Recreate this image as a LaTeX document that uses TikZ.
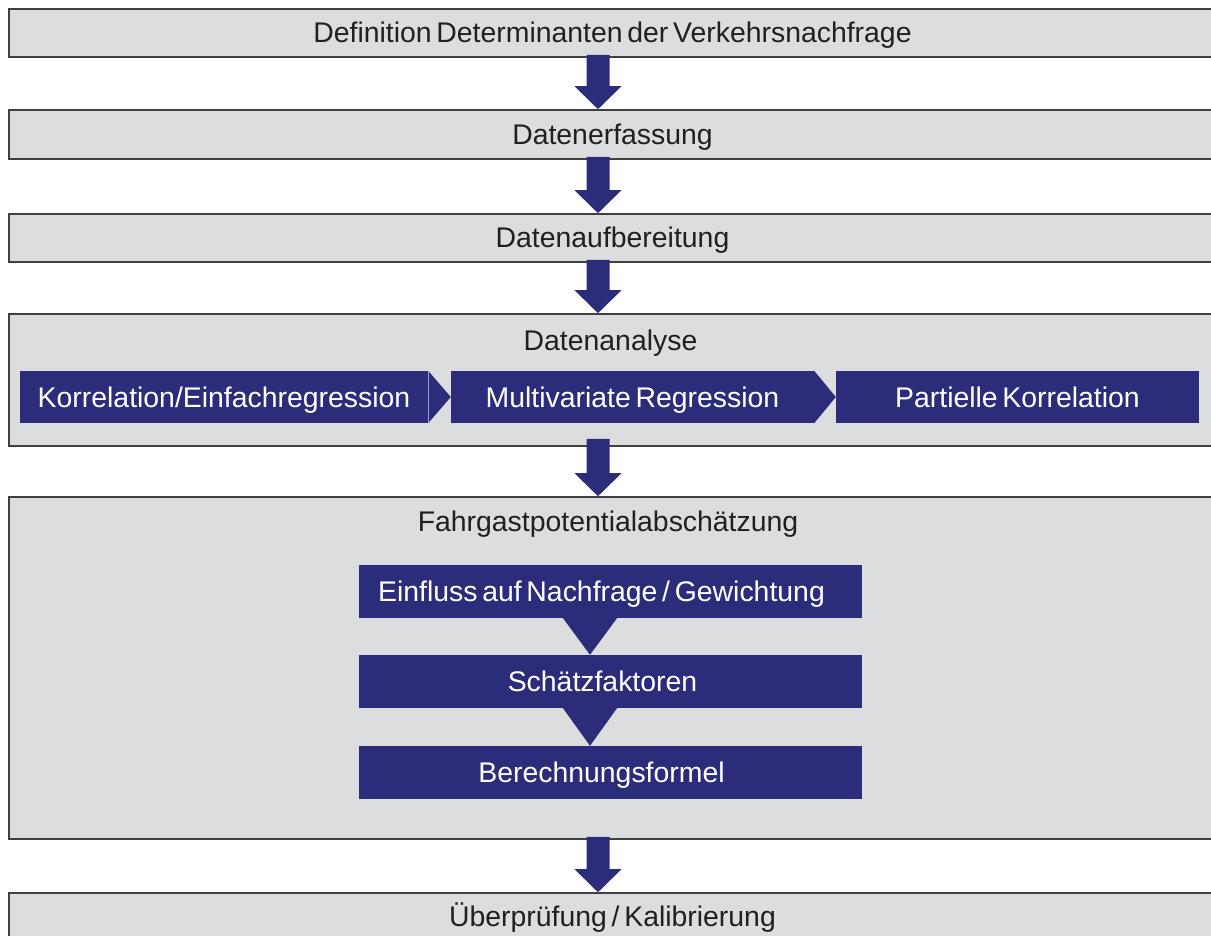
\documentclass[tikz,border=0pt]{standalone}
\usepackage{fontspec}
\setmainfont{Liberation Sans}[WordSpace=0.6]
\usetikzlibrary{calc}
\definecolor{boxgray}{HTML}{DCDDDF}
\definecolor{boxline}{HTML}{404040}
\definecolor{navy}{HTML}{2C2D7A}
\definecolor{txt}{HTML}{231F20}
\newcommand\diafont{\fontsize{28.4}{34}\selectfont}
\newcommand\blockarrow[3]{%
  \fill[navy] let \p1=(#1.south), \p2=(#2.north), \p3=(ax) in
    (\x3-11.5,\y1+#3) -- (\x3+11.5,\y1+#3) -- (\x3+11.5,\y2+23) -- (\x3+23.5,\y2+23)
    -- (\x3,\y2) -- (\x3-23.5,\y2+23) -- (\x3-11.5,\y2+23) -- cycle;}
\begin{document}
\begin{tikzpicture}[x=1pt,y=-1pt,
  stage/.style={draw=boxline, line width=1.6pt, fill=boxgray, minimum width=1207pt,
    inner sep=0pt, text=txt, font=\diafont, text height=20pt, text depth=0pt},
  bluebox/.style={fill=navy, inner sep=0pt, text=white, font=\diafont,
    text height=20pt, text depth=0pt, minimum height=52pt},
  innerbox/.style={fill=navy, inner sep=0pt, minimum width=503pt, minimum height=53pt},
  wtext/.style={text=white, font=\diafont, inner sep=0pt, text height=20pt, text depth=0pt},
  title/.style={text=txt, font=\diafont, anchor=base, inner sep=0pt}]
\useasboundingbox (0,0) rectangle (1211,936);
\clip (0,0) rectangle (1211,936);
\coordinate (ax) at (598,0);
\coordinate (tx) at (590,0);

% stages
\node[stage, minimum height=48pt] (b1) at (612.5,33) {Definition Determinanten der Verkehrsnachfrage};
\node[stage, minimum height=49pt] (b2) at (612.5,134.5) {Datenerfassung};
\node[stage, minimum height=48pt] (b3) at (612.5,238) {Datenaufbereitung};
\node[stage, minimum height=132pt] (b4) at (612.5,380) {};
\node[stage, minimum height=342pt] (b5) at (612.5,668) {};
\node[stage, minimum height=46pt] (b6) at (612.5,916) {Überprüfung / Kalibrierung};

\node[title] (t4) at (610.5,350) {Datenanalyse};
\node[title] (t5) at (608,531) {Fahrgastpotentialabschätzung};

% Datenanalyse steps
\node[bluebox, minimum width=408pt] (k1) at (224,397) {Korrelation/Einfachregression};
\node[bluebox, minimum width=363pt] (k2) at (632.5,397) {Multivariate Regression};
\node[bluebox, minimum width=363pt] (k3) at (1017.5,397) {Partielle Korrelation};
\fill[navy] (k1.north east) -- (k2.west) -- (k1.south east) -- cycle;
\draw[navy!45!white, line width=0.6pt] (k1.north east) -- (k1.south east);
\fill[navy] (k2.north east) -- (k3.west) -- (k2.south east) -- cycle;

% Fahrgastpotential steps
\node[innerbox] (f1) at (610.5,591.5) {};
\node[innerbox] (f2) at (610.5,681.5) {};
\node[innerbox] (f3) at (610.5,772.5) {};
\node[wtext] (ft1) at ([xshift=-9pt]f1.center) {Einfluss auf Nachfrage / Gewichtung};
\node[wtext] (ft2) at ([xshift=-8pt]f2.center) {Schätzfaktoren};
\node[wtext] (ft3) at ([xshift=-9pt]f3.center) {Berechnungsformel};
\fill[navy] ($(f1.south)+(-47.5,0)$) -- ($(f1.south)+(6.5,0)$) -- (tx |- f2.north) -- cycle;
\fill[navy] ($(f2.south)+(-47.5,0)$) -- ($(f2.south)+(6.5,0)$) -- (tx |- f3.north) -- cycle;

% block arrows
\blockarrow{b1}{b2}{3}
\blockarrow{b2}{b3}{3}
\blockarrow{b3}{b4}{3}
\blockarrow{b4}{b5}{8}
\blockarrow{b5}{b6}{3}
\end{tikzpicture}
\end{document}
